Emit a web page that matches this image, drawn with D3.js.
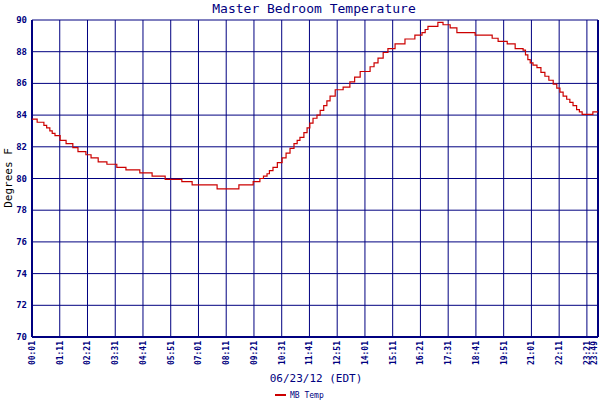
<!DOCTYPE html>
<html><head><meta charset="utf-8">
<script src="https://cdn.jsdelivr.net/npm/d3@7"></script>
<style>body{margin:0;background:#fff}</style>
</head><body><svg id="c" width="600" height="400"></svg>
<script>
const times=["00:01","00:14","00:31","00:38","00:46","00:52","00:59","01:12","01:27","01:44","01:57","02:17","02:30","02:48","03:10","03:35","03:58","04:33","05:04","05:37","06:19","06:45","07:48","08:43","09:19","09:36","09:45","09:54","10:00","10:09","10:20","10:32","10:42","10:52","11:02","11:10","11:17","11:27","11:35","11:42","11:50","12:00","12:08","12:17","12:25","12:33","12:46","13:06","13:23","13:35","13:49","14:14","14:24","14:34","14:47","14:59","15:17","15:42","16:07","16:25","16:33","16:40","17:05","17:18","17:36","17:53","18:39","19:22","19:37","20:00","20:20","20:40","20:46","20:52","20:58","21:05","21:15","21:25","21:35","21:45","21:56","22:05","22:13","22:21","22:30","22:38","22:46","22:55","23:02","23:09","23:36","23:49"];
const temps=[83.75,83.55,83.35,83.2,83.0,82.85,82.7,82.4,82.2,81.95,81.7,81.5,81.3,81.05,80.9,80.7,80.55,80.35,80.15,79.95,79.8,79.6,79.35,79.6,79.8,80.0,80.15,80.3,80.5,80.7,81.0,81.3,81.6,81.9,82.2,82.4,82.6,82.9,83.2,83.5,83.8,84.0,84.3,84.6,84.9,85.2,85.6,85.77,86.1,86.4,86.75,87.05,87.3,87.6,87.95,88.2,88.5,88.8,89.05,89.2,89.4,89.6,89.85,89.7,89.5,89.2,89.05,88.85,88.65,88.5,88.2,88.1,87.8,87.5,87.3,87.15,87.0,86.7,86.45,86.2,85.95,85.7,85.45,85.2,85.0,84.8,84.6,84.35,84.2,84.05,84.2,84.2];
const tickLabels=["00:01","01:11","02:21","03:31","04:41","05:51","07:01","08:11","09:21","10:31","11:41","12:51","14:01","15:11","16:21","17:31","18:41","19:51","21:01","22:11","23:21","23:49"];
const yTicks=[70,72,74,76,78,80,82,84,86,88,90];
const toMin=s=>{const[a,b]=s.split(":").map(Number);return a*60+b;};
const svg=d3.select("#c"),navy="#000080",L=32,R=598,T=20,B=337;
const x=d3.scaleLinear().domain([toMin("00:01"),toMin("23:49")]).range([L,R]);
const y=d3.scaleLinear().domain([70,90]).range([B,T]);
const g=svg.append("g");
g.selectAll(".v").data(tickLabels).join("line").attr("x1",d=>x(toMin(d))).attr("x2",d=>x(toMin(d))).attr("y1",T).attr("y2",B).attr("stroke",navy).attr("stroke-width",1);
g.selectAll(".h").data(yTicks).join("line").attr("x1",L).attr("x2",R).attr("y1",d=>y(d)).attr("y2",d=>y(d)).attr("stroke",navy).attr("stroke-width",1);
g.append("line").attr("x1",L).attr("x2",L).attr("y1",T).attr("y2",B).attr("stroke",navy).attr("stroke-width",2);
g.append("line").attr("x1",R).attr("x2",R).attr("y1",T).attr("y2",B).attr("stroke",navy).attr("stroke-width",2);
g.append("line").attr("x1",L).attr("x2",R).attr("y1",B).attr("y2",B).attr("stroke",navy).attr("stroke-width",2);
const f="'DejaVu Sans Mono',monospace";
g.selectAll(".yl").data(yTicks).join("text").attr("x",L-5).attr("y",d=>y(d)+3).attr("text-anchor","end").attr("font-family",f).attr("font-size",9).attr("font-weight","bold").attr("fill",navy).text(d=>d);
g.selectAll(".xl").data(tickLabels).join("text").attr("transform",d=>`translate(${Math.min(x(toMin(d))+3,597)},${B+4}) rotate(-90)`).attr("text-anchor","end").attr("font-family",f).attr("font-size",8).attr("font-weight","bold").attr("fill",navy).text(d=>d);
const data=times.map((t,i)=>({t:toMin(t),v:temps[i]}));
svg.append("path").datum(data).attr("d",d3.line().x(d=>x(d.t)).y(d=>y(d.v)).curve(d3.curveStepAfter)).attr("fill","none").attr("stroke","#cc0000").attr("stroke-width",1.2);
svg.append("text").attr("x",314).attr("y",13).attr("text-anchor","middle").attr("font-family",f).attr("font-size",13).attr("fill",navy).text("Master Bedroom Temperature");
svg.append("text").attr("transform","translate(12,178) rotate(-90)").attr("text-anchor","middle").attr("font-family",f).attr("font-size",11).attr("fill","#000").text("Degrees F");
svg.append("text").attr("x",316).attr("y",382).attr("text-anchor","middle").attr("font-family",f).attr("font-size",11).attr("fill",navy).text("06/23/12 (EDT)");
svg.append("line").attr("x1",275).attr("x2",286).attr("y1",395).attr("y2",395).attr("stroke","#cc0000").attr("stroke-width",2);
svg.append("text").attr("x",290).attr("y",398).attr("font-family",f).attr("font-size",8).attr("fill",navy).text("MB Temp");
</script></body></html>
